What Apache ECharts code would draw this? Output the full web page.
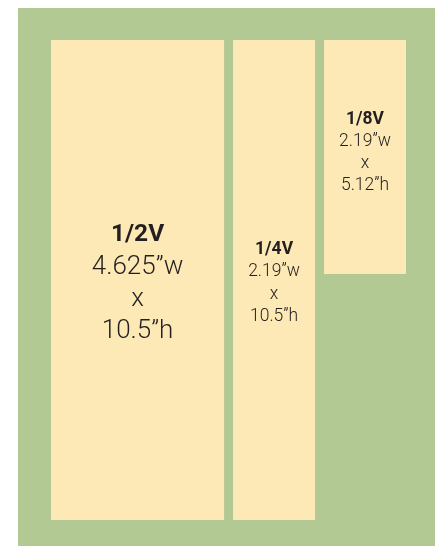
<!DOCTYPE html>
<html>
<head>
<meta charset="utf-8">
<script src="https://cdn.jsdelivr.net/npm/echarts@6/dist/echarts.min.js"></script>
<style>
html,body{margin:0;padding:0;background:#fff;}
#c{width:438px;height:546px;}
</style>
</head>
<body>
<div id="c"></div>
<script>
// Ad sizes (inches)
var categories = ['1/2V', '1/4V', '1/8V'];
var widths = [4.625, 2.19, 2.19];
var heights = [10.5, 10.5, 5.12];
var widthLabels = ['4.625\u201dw', '2.19\u201dw', '2.19\u201dw'];
var heightLabels = ['10.5\u201dh', '10.5\u201dh', '5.12\u201dh'];

var GAP = 9;           // px between boxes
var PAGE_H = 10.5;
var totalW = widths.reduce(function (a, b) { return a + b; }, 0);

var chart = echarts.init(document.getElementById('c'), null, { renderer: 'canvas' });

var data = categories.map(function (c, i) {
  var start = 0;
  for (var k = 0; k < i; k++) start += widths[k];
  return { name: c, value: [start, widths[i], heights[i], i] };
});

var styles = [
  { title: 24.5, body: 26, line: 32, pos: 0.5 },
  { title: 17.5, body: 17.5, line: 22.5, pos: 0.5 },
  { title: 17.5, body: 17.5, line: 22, pos: 0.47 }
];

function renderItem(params, api) {
  var start = api.value(0), w = api.value(1), h = api.value(2), i = api.value(3);
  var topLeft = api.coord([start, PAGE_H]);
  var x0 = topLeft[0] + i * GAP;
  var y0 = topLeft[1];
  var pw = api.size([w, 0])[0];
  var ph = api.size([0, h])[1];
  var s = styles[i];
  var cx = x0 + pw / 2;
  var cy = y0 + ph * s.pos + 3;
  var lines = [
    { t: categories[i], fs: s.title, fw: 'bold' },
    { t: widthLabels[i], fs: s.body, fw: 300 },
    { t: 'x', fs: s.body, fw: 300 },
    { t: heightLabels[i], fs: s.body, fw: 300 }
  ];
  var children = [{
    type: 'rect',
    shape: { x: x0, y: y0, width: pw, height: ph },
    style: { fill: '#fde9b5' }
  }];
  lines.forEach(function (ln, j) {
    children.push({
      type: 'text',
      style: {
        text: ln.t,
        x: cx,
        y: cy + (j - 1.5) * s.line,
        align: 'center',
        verticalAlign: 'middle',
        fontFamily: 'Roboto, "Liberation Sans", sans-serif',
        fontWeight: ln.fw,
        fontSize: ln.fs,
        fill: '#231f20'
      }
    });
  });
  return { type: 'group', children: children };
}

chart.setOption({
  animation: false,
  backgroundColor: '#ffffff',
  graphic: [{
    type: 'rect',
    left: 18, top: 8,
    shape: { width: 417, height: 538 },
    style: { fill: '#b3c994' },
    z: -10
  }],
  grid: { left: 51, top: 40, width: 355 - 2 * GAP, height: 480 },
  xAxis: { type: 'value', min: 0, max: totalW, show: false },
  yAxis: { type: 'value', min: 0, max: PAGE_H, show: false },
  series: [{
    type: 'custom',
    renderItem: renderItem,
    data: data,
    encode: { x: 0, y: 2 },
    clip: false
  }]
});
</script>
</body>
</html>
